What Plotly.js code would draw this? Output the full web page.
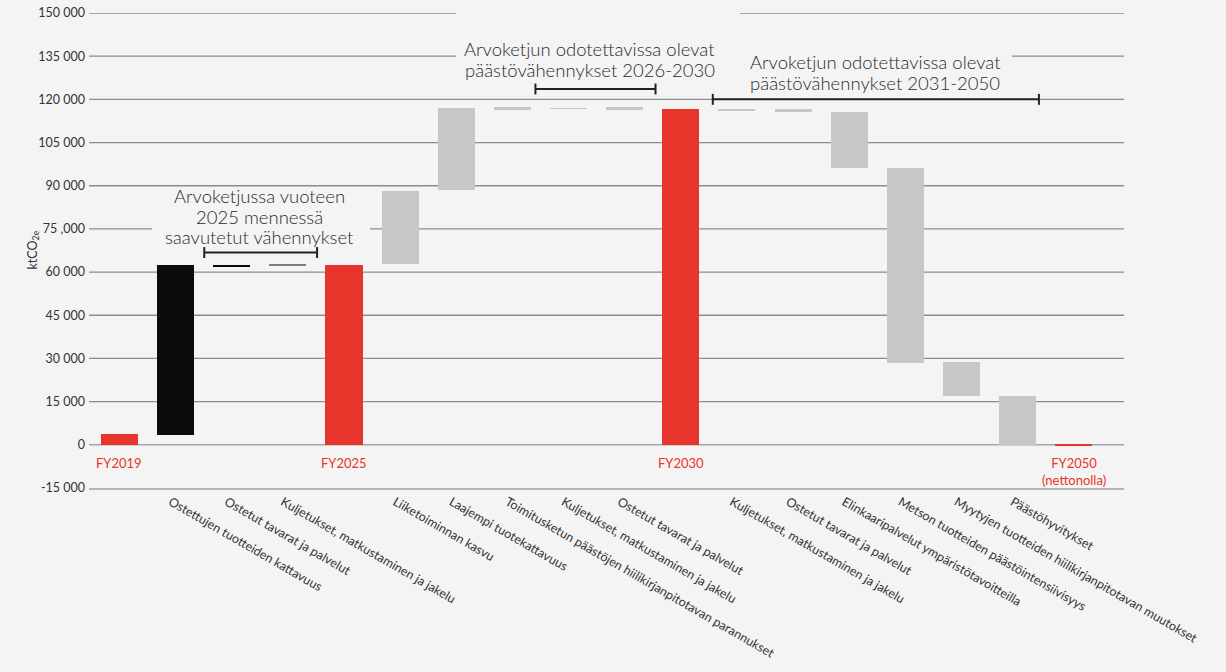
<!DOCTYPE html>
<html>
<head>
<meta charset="utf-8">
<script src="https://cdn.plot.ly/plotly-3.0.1.min.js"></script>
<style>
  html, body { margin: 0; padding: 0; background: #f4f4f4; }
  #chart { width: 1226px; height: 672px; }
</style>
</head>
<body>
<div id="chart"></div>
<script>
// ---- data ----
const categories = [
  'FY2019',
  'Ostettujen tuotteiden kattavuus',
  'Ostetut tavarat ja palvelut',
  'Kuljetukset, matkustaminen ja jakelu',
  'FY2025',
  'Liiketoiminnan kasvu',
  'Laajempi tuotekattavuus',
  'Toimitusketun päästöjen hiilikirjanpitotavan parannukset',
  'Kuljetukset, matkustaminen ja jakelu',
  'Ostetut tavarat ja palvelut',
  'FY2030',
  'Kuljetukset, matkustaminen ja jakelu',
  'Ostetut tavarat ja palvelut',
  'Elinkaaripalvelut ympäristötavoitteilla',
  'Metson tuotteiden päästöintensiivisyys',
  'Myytyjen tuotteiden hiilikirjanpitotavan muutokset',
  'Päästöhyvitykset',
  'FY2050'
];
const totalLabels = ['FY2019', 'FY2025', 'FY2030', 'FY2050<br>(nettonolla)'];
const barLow  = [0, 3500, 61800, 62200, 0, 62900, 88500, 116400, 116500, 116400, 0, 115900, 115700, 96100, 28500, 17000, 0, -300];
const barHigh = [3700, 62400, 62500, 62800, 62400, 88100, 117000, 117300, 116900, 117300, 116600, 116500, 116600, 115500, 96100, 28700, 16900, 300];
const barKind = ['total', 'achieved', 'achieved', 'achievedOther', 'total', 'expected', 'expected', 'expected', 'expected', 'expected', 'total', 'expected', 'expected', 'expected', 'expected', 'expected', 'expected', 'total'];

const yTickVals = [-15000, 0, 15000, 30000, 45000, 60000, 75000, 90000, 105000, 120000, 135000, 150000];
const yTickText = ['-15 000', '0', '15 000', '30 000', '45 000', '60 000', '75 ,000', '90 000', '105 000', '120 000', '135 000', '150 000'];

const groupTitles = [
  ['Arvoketjussa vuoteen', '2025 mennessä', 'saavutetut vähennykset'],
  ['Arvoketjun odotettavissa olevat', 'päästövähennykset 2026-2030'],
  ['Arvoketjun odotettavissa olevat', 'päästövähennykset 2031-2050']
];
const bracketStart = [1.51, 7.41, 10.57];
const bracketEnd   = [3.52, 9.55, 16.38];
const bracketLevel = [66800, 123600, 120000];

// ---- styles ----
const BG = '#f4f4f4';
const kindColor = { total: '#e8352b', achieved: '#0b0b0b', achievedOther: '#7d7d7d', expected: '#c7c7c5' };
const FONT = 'Lato, "Open Sans", sans-serif';

const xs = categories.map((_, i) => i);
const trace = {
  type: 'bar',
  x: xs,
  base: barLow,
  y: barHigh.map((h, i) => h - barLow[i]),
  width: 0.66,
  marker: { color: barKind.map(k => kindColor[k]), line: { width: 0 } },
  hoverinfo: 'skip'
};

const tickIdx = xs.filter(i => barKind[i] !== 'total');
const totalIdx = xs.filter(i => barKind[i] === 'total');

const shapes = [];
// horizontal gridlines (drawn under the bars)
yTickVals.forEach(v => {
  if (v === yTickVals[0]) return; // bottom line is the x axis line
  shapes.push({
    type: 'line', xref: 'paper', yref: 'y', layer: 'below',
    x0: 0, x1: 1, y0: v, y1: v,
    line: v === 0 ? { color: '#a3a7ab', width: 1.6 } : { color: '#858c94', width: 1.3 }
  });
});
// background panels behind the group titles (they interrupt the gridlines)
const panels = [
  { x0: 0.0609, x1: 0.2715, y0: 0.5116, y1: 0.6316 },
  { x0: 0.3546, x1: 0.6290, y0: 0.8589, y1: 1.0232 },
  { x0: 0.6290, x1: 0.8918, y0: 0.8295, y1: 0.9642 }
];
panels.forEach(p => shapes.push({
  type: 'rect', xref: 'paper', yref: 'paper', layer: 'above',
  x0: p.x0, x1: p.x1, y0: p.y0, y1: p.y1,
  fillcolor: BG, line: { width: 0 }
}));
bracketStart.forEach((s, i) => {
  const e = bracketEnd[i], yv = bracketLevel[i];
  const line = { color: '#222', width: 2 };
  shapes.push({ type: 'line', xref: 'x', yref: 'y', layer: 'above', x0: s, x1: e, y0: yv, y1: yv, line });
  shapes.push({ type: 'line', xref: 'x', yref: 'y', layer: 'above', x0: s, x1: s, y0: yv - 1900, y1: yv + 1900, line });
  shapes.push({ type: 'line', xref: 'x', yref: 'y', layer: 'above', x0: e, x1: e, y0: yv - 1900, y1: yv + 1900, line });
});

const annotations = [];
const titlePos = [ { x: 2.50, y: 86400 }, { x: 8.38, y: 137400 }, { x: 13.46, y: 132900 } ];
groupTitles.forEach((lines, i) => lines.forEach((t, k) => annotations.push({
  xref: 'x', yref: 'y', x: titlePos[i].x, y: titlePos[i].y, yshift: -20.5 * k,
  text: t, showarrow: false,
  xanchor: 'center', yanchor: 'middle', align: 'center',
  font: { family: FONT, size: 18.5, color: '#2b2b2b', weight: 300 }
})));
totalIdx.forEach((idx, j) => annotations.push({
  xref: 'x', yref: 'y', x: idx, y: 0, text: totalLabels[j], showarrow: false,
  xanchor: 'center', yanchor: 'top', yshift: -8, align: 'center',
  font: { family: FONT, size: 13, color: '#e8352b' }
}));
annotations.push({
  xref: 'paper', yref: 'paper', x: 0, y: 0.5, xshift: -56, text: 'ktCO<sub>2e</sub>',
  textangle: -90, showarrow: false, xanchor: 'center', yanchor: 'middle',
  font: { family: FONT, size: 12.5, color: '#333' }
});

const layout = {
  width: 1226, height: 672,
  paper_bgcolor: BG, plot_bgcolor: BG,
  margin: { l: 89, r: 102, t: 13, b: 184 },
  showlegend: false,
  font: { family: FONT, color: '#333' },
  bargap: 0,
  xaxis: {
    range: [-0.543, 17.896],
    tickmode: 'array',
    tickvals: tickIdx,
    ticktext: tickIdx.map(i => categories[i]),
    tickangle: 30,
    ticks: '',
    ticklabelshift: -5,
    showgrid: false,
    zeroline: false,
    showline: true, linecolor: '#b2b4b6', linewidth: 2,
    tickfont: { family: FONT, size: 12.5, color: '#333' },
    automargin: false, fixedrange: true
  },
  yaxis: {
    range: [-15000, 150000],
    tickmode: 'array',
    tickvals: yTickVals,
    ticktext: yTickText,
    showgrid: false,
    zeroline: false,
    showline: false,
    ticks: '', ticklabelstandoff: 3,
    tickfont: { family: FONT, size: 12.5, color: '#333' },
    automargin: false, fixedrange: true
  },
  annotations,
  shapes
};

Plotly.newPlot('chart', [trace], layout, { displayModeBar: false, staticPlot: true });
</script>
</body>
</html>
